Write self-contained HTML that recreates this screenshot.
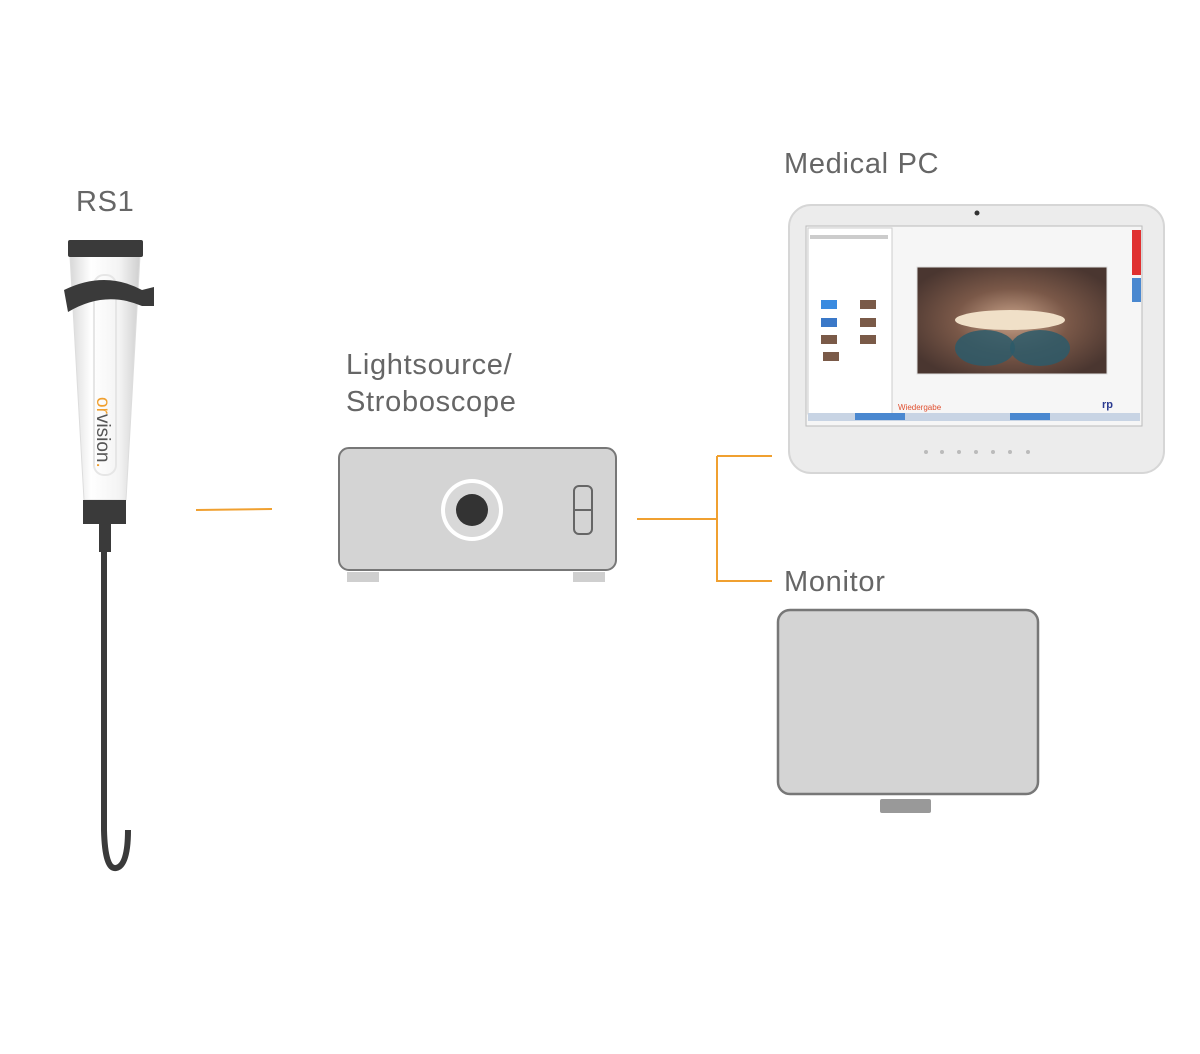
<!DOCTYPE html>
<html><head><meta charset="utf-8"><style>
html,body{margin:0;padding:0;background:#fff;}
svg{display:block;}
text{font-family:"Liberation Sans",Arial,sans-serif;fill:#666;}
.lbl{font-size:29px;letter-spacing:0.7px;}
</style></head><body>
<svg width="1200" height="1054" viewBox="0 0 1200 1054" xmlns="http://www.w3.org/2000/svg">
<defs>
<linearGradient id="hg" x1="0" x2="1" y1="0" y2="0">
<stop offset="0" stop-color="#d8d8d8"/><stop offset="0.3" stop-color="#ffffff"/><stop offset="0.7" stop-color="#f4f4f4"/><stop offset="1" stop-color="#cfcfcf"/>
</linearGradient>
<radialGradient id="endo" cx="0.5" cy="0.5" r="0.6">
<stop offset="0" stop-color="#c9a38a"/><stop offset="0.5" stop-color="#7a5848"/><stop offset="1" stop-color="#4a3630"/>
</radialGradient>
</defs>
<!-- RS1 -->
<text x="76" y="211" class="lbl">RS1</text>
<path d="M70 256 L140 256 L126 500 L84 500 Z" fill="url(#hg)" stroke="#ddd" stroke-width="1"/>
<rect x="94" y="275" width="22" height="200" rx="10" fill="none" stroke="#e6e6e6" stroke-width="2"/>
<rect x="68" y="240" width="75" height="17" rx="2" fill="#3a3a3a"/>
<path d="M64 290 Q105 270 142 290 L154 287 L154 306 L142 306 Q105 290 68 312 Z" fill="#3a3a3a"/>
<text transform="translate(97,397) rotate(90)" font-size="19"><tspan style="fill:#f0a030">or</tspan><tspan style="fill:#555">vision</tspan><tspan style="fill:#f0a030">.</tspan></text>
<rect x="83" y="500" width="43" height="24" fill="#3a3a3a"/>
<rect x="99" y="522" width="12" height="30" fill="#3a3a3a"/>
<path d="M104 550 L104 830 Q105 870 116 868 Q128 866 128 830" fill="none" stroke="#3a3a3a" stroke-width="6"/>
<!-- orange lines -->
<g stroke="#f0a030" stroke-width="2" fill="none">
<line x1="196" y1="510" x2="272" y2="509"/>
<line x1="637" y1="519" x2="717" y2="519"/>
<line x1="717" y1="456" x2="717" y2="582"/>
<line x1="717" y1="456" x2="772" y2="456"/>
<line x1="717" y1="581" x2="772" y2="581"/>
</g>
<!-- Lightsource -->
<text x="346" y="374" class="lbl">Lightsource/</text>
<text x="346" y="411" class="lbl">Stroboscope</text>
<rect x="347" y="572" width="32" height="10" fill="#cfcfcf"/>
<rect x="573" y="572" width="32" height="10" fill="#cfcfcf"/>
<rect x="339" y="448" width="277" height="122" rx="10" fill="#d4d4d4" stroke="#777" stroke-width="2"/>
<circle cx="472" cy="510" r="31" fill="#fff"/>
<circle cx="472" cy="510" r="27" fill="#d8d8d8"/>
<circle cx="472" cy="510" r="16" fill="#333"/>
<rect x="574" y="486" width="18" height="48" rx="5" fill="none" stroke="#666" stroke-width="2"/>
<line x1="574" y1="510" x2="592" y2="510" stroke="#666" stroke-width="2"/>
<!-- Medical PC -->
<text x="784" y="173" class="lbl">Medical PC</text>
<rect x="789" y="205" width="375" height="268" rx="22" fill="#ececec" stroke="#d6d6d6" stroke-width="2"/>
<circle cx="977" cy="213" r="2.5" fill="#333"/>
<rect x="806" y="226" width="336" height="200" fill="#f6f6f6" stroke="#bbb"/>
<rect x="808" y="228" width="84" height="186" fill="#fff" stroke="#ccc"/>
<rect x="810" y="235" width="78" height="4" fill="#ccc"/>
<rect x="821" y="300" width="16" height="9" fill="#3a8be0"/>
<rect x="860" y="300" width="16" height="9" fill="#7a5a48"/>
<rect x="821" y="318" width="16" height="9" fill="#3a78c8"/>
<rect x="860" y="318" width="16" height="9" fill="#7a5a48"/>
<rect x="821" y="335" width="16" height="9" fill="#7a5a48"/>
<rect x="860" y="335" width="16" height="9" fill="#7a5a48"/>
<rect x="823" y="352" width="16" height="9" fill="#7a5a48"/>
<rect x="917" y="267" width="190" height="107" fill="url(#endo)" stroke="#ddd"/>
<ellipse cx="1010" cy="320" rx="55" ry="10" fill="#f0e0c8"/>
<ellipse cx="985" cy="348" rx="30" ry="18" fill="#2d5a6a" opacity="0.85"/>
<ellipse cx="1040" cy="348" rx="30" ry="18" fill="#2d5a6a" opacity="0.85"/>
<text x="898" y="410" font-size="8" style="fill:#e05030">Wiedergabe</text>
<text x="1102" y="408" font-size="11" font-weight="bold" style="fill:#2a3a90">rp</text>
<rect x="1132" y="230" width="9" height="45" fill="#e03030"/>
<rect x="1132" y="278" width="9" height="24" fill="#4a88d0"/>
<rect x="808" y="413" width="332" height="8" fill="#c8d4e4"/>
<rect x="1010" y="413" width="40" height="7" fill="#4a88d0"/>
<rect x="855" y="413" width="50" height="7" fill="#4a88d0"/>
<g fill="#bbb"><circle cx="926" cy="452" r="2"/><circle cx="942" cy="452" r="2"/><circle cx="959" cy="452" r="2"/><circle cx="976" cy="452" r="2"/><circle cx="993" cy="452" r="2"/><circle cx="1010" cy="452" r="2"/><circle cx="1028" cy="452" r="2"/></g>
<!-- Monitor -->
<text x="784" y="591" class="lbl">Monitor</text>
<rect x="778" y="610" width="260" height="184" rx="12" fill="#d4d4d4" stroke="#777" stroke-width="2.5"/>
<rect x="880" y="799" width="51" height="14" rx="2" fill="#999"/>
</svg>
</body></html>
